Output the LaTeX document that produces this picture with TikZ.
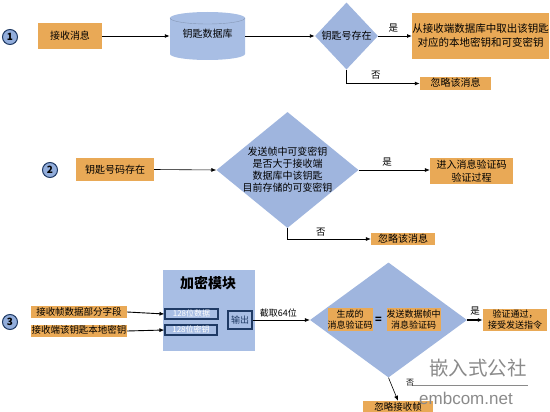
\documentclass[tikz,border=0pt]{standalone}
\usepackage{fontspec}
\setmainfont{Noto Sans CJK SC}
\newfontfamily\latinsans{Liberation Sans}
\usetikzlibrary{shapes.geometric,arrows.meta}
\definecolor{org}{HTML}{E9A956}
\definecolor{lblue}{HTML}{A8BEE4}
\definecolor{dblue}{HTML}{9FB5DE}
\definecolor{navy}{HTML}{1F3A64}
\definecolor{circfill}{HTML}{92ADDB}
\definecolor{wm}{HTML}{8A8A8A}
\tikzset{
  obox/.style={fill=org, inner sep=0pt, align=center, font=\fontsize{10}{12}\selectfont},
  num/.style={circle, fill=circfill, draw=navy, line width=1pt, minimum size=15pt, inner sep=0pt, font=\bfseries\fontsize{10}{10}\selectfont},
  dia/.style={diamond, fill=dblue, inner sep=0pt},
  arr/.style={-{Latex[length=5pt,width=4pt]}, line width=0.9pt},
  thinarr/.style={-{Latex[length=5pt,width=4pt]}, line width=0.6pt},
  lab/.style={font=\fontsize{9.5}{10}\selectfont, inner sep=1pt},
  inbox/.style={draw=navy, line width=1.1pt, fill=lblue, inner sep=0pt, text=white, font=\fontsize{8}{9}\selectfont}
}
\begin{document}
\begin{tikzpicture}[x=1pt,y=-1pt]
\useasboundingbox (0,0) rectangle (550,412);
% ---------- Row 1 ----------
\node[num] (c1) at (10,37) {1};
\node[obox, minimum width=64, minimum height=26] (r1a) at (70,36) {接收消息};
% cylinder
\fill[lblue] (170,18) -- (170,54) arc[start angle=180,end angle=360,x radius=37.5pt,y radius=6pt] -- (245,18) arc[start angle=0,end angle=180,x radius=37.5pt,y radius=6pt] -- cycle;
\draw[lblue!80!black, line width=0.4pt] (170,18) arc[start angle=180,end angle=360,x radius=37.5pt,y radius=6pt];
\node[minimum width=75, minimum height=48, inner sep=0pt] (db) at (207.5,36) {};
\node[font=\fontsize{10}{12}\selectfont] (dbt) at (207.5,34) {钥匙数据库};
\node[dia, minimum width=63, minimum height=67] (d1) at (346.5,36) {};
\node[font=\fontsize{10}{12}\selectfont] (d1t) at (d1) {钥匙号存在};
\node[obox, minimum width=135, minimum height=46, font=\fontsize{10.5}{14}\selectfont] (r1b) at (480.5,36) {从接收端数据库中取出该钥匙\\对应的本地密钥和可变密钥};
\node[obox, minimum width=71, text height=8, text depth=2, minimum height=13] (r1c) at (455.5,83.5) {忽略该消息};
\draw[arr] (r1a.east) -- (db.west);
\draw[arr] (db.east) -- (d1.west);
\draw[arr] (d1.east) -- (r1b.west) node[lab, pos=0.45, above=2pt] (y1) {是};
\draw[arr] (d1.south) |- (r1c.west) node[lab, pos=0.7, above=3pt] (n1) {否};
% ---------- Row 2 ----------
\node[num] (c2) at (50,170) {2};
\node[obox, minimum width=78, minimum height=23] (r2a) at (115,169.5) {钥匙号码存在};
\node[dia, minimum width=142, minimum height=116] (d2) at (287.5,170) {};
\node[align=center, font=\fontsize{10}{12}\selectfont] (d2t) at (287.5,170) {发送帧中可变密钥\\是否大于接收端\\数据库中该钥匙\\目前存储的可变密钥};
\node[obox, minimum width=83, minimum height=26, font=\fontsize{10}{12.5}\selectfont] (r2b) at (471.5,171) {进入消息验证码\\验证过程};
\node[obox, minimum width=64, text height=8, text depth=2, minimum height=11] (r2c) at (403,239) {忽略该消息};
\draw[thinarr] (r2a.east) -- (d2.west);
\draw[thinarr] (d2.east) -- (r2b.west |- d2.east) node[lab, pos=0.4, above=2pt] (y2) {是};
\draw[thinarr] (d2.south) |- (r2c.west) node[lab, pos=0.7, above=1pt] (n2) {否};
% ---------- Row 3 ----------
\node[num] (c3) at (10,322) {3};
\node[obox, minimum width=96, text height=8, text depth=2, minimum height=12, font=\fontsize{9.5}{11}\selectfont] (r3a) at (79,312) {接收帧数据部分字段};
\node[obox, minimum width=96, text height=8, text depth=2, minimum height=12, font=\fontsize{9.5}{11}\selectfont] (r3b) at (79,331) {接收端该钥匙本地密钥};
\node[fill=lblue, minimum width=92, minimum height=81, inner sep=0pt] (mod) at (209,310.5) {};
\node[font=\bfseries\fontsize{14}{16}\selectfont] (modt) at (208,283) {加密模块};
\node[inbox, minimum width=53, minimum height=10, text height=7, text depth=1.5] (ib1) at (191.5,314) {128位数据};
\node[inbox, minimum width=52, minimum height=10, text height=7, text depth=1.5] (ib2) at (191,330) {128位密钥};
\node[draw=navy, line width=1.1pt, minimum width=24, minimum height=18, inner sep=0pt, text=navy, font=\fontsize{9}{10}\selectfont] (out) at (240,320) {输出};
\draw[arr] (r3a.east) -- (ib1.west);
\draw[arr] (r3b.east) -- (ib2.west);
\node[dia, minimum width=157, minimum height=115] (d3) at (388.5,320) {};
\draw[arr, line width=0.6pt] (out.east) -- (d3.west) node[lab, pos=0.45, above=1pt, font=\fontsize{9}{10}\selectfont] (cut) {截取64位};
\node[obox, minimum width=44, minimum height=23, font=\fontsize{9}{11}\selectfont] (m1) at (350,319.5) {生成的\\消息验证码};
\node[font=\bfseries\fontsize{11}{12}\selectfont, inner sep=0pt] (eq) at (378.5,320) {=};
\node[obox, minimum width=53, minimum height=23, font=\fontsize{9}{11}\selectfont] (m2) at (413.5,319.5) {发送数据帧中\\消息验证码};
\node[obox, minimum width=64, minimum height=22, font=\fontsize{9}{11}\selectfont] (r3c) at (515,320) {验证通过，\\接受发送指令};
\node[obox, minimum width=70, minimum height=12, text height=8, text depth=2, font=\fontsize{9.5}{11}\selectfont] (r3d) at (398,407) {忽略接收帧};
\draw[arr, line width=1.2pt] (d3.east) -- (r3c.west) node[lab, midway, above=3pt] (y3) {是};
\draw[arr, line width=0.6pt] (d3.south) -- (r3d.north);
% ---------- watermark ----------
\node[text=wm, font=\fontsize{19.5}{20}\selectfont, inner sep=0pt] (wm1) at (478,368) {嵌入式公社};
\coordinate (wl1) at (412,385);
\coordinate (wl2) at (528,385);
\draw[wm, line width=1pt] (wl1) -- (wl2);
\node[lab, font=\fontsize{8}{9}\selectfont] (n3) at (410,383) {否};
\node[text=wm, font=\latinsans\fontsize{17}{18}\selectfont, inner sep=0pt] (wm2) at (466,398) {embcom.net};
\end{tikzpicture}
\end{document}
